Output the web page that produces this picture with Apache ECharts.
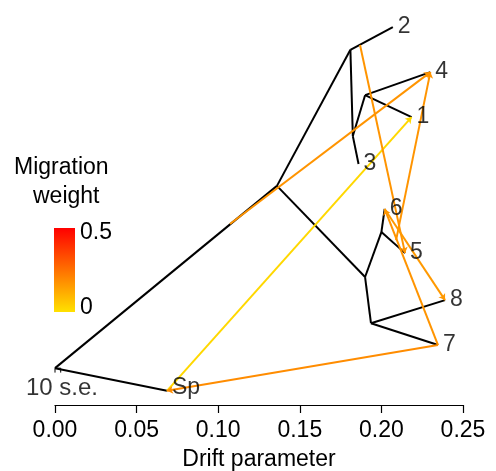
<!DOCTYPE html>
<html><head><meta charset="utf-8">
<script src="https://cdn.jsdelivr.net/npm/echarts@6/dist/echarts.min.js"></script>
<style>html,body{margin:0;padding:0;background:#fff}#c{width:496px;height:471px}</style>
</head><body><div id="c"></div>
<script>
// Tree nodes: drift parameter (x) and vertical position (y, 0..1)
const nodeNames = ['root','Sp','A','B','2','C','3','D','4','1','E','F','6','5','G','8','7'];
const nodeDrift = [0.000,0.0686,0.136,0.181,0.207,0.1825,0.186,0.190,0.230,0.2185,0.190,0.200,0.202,0.2145,0.1936,0.239,0.2347];
const nodeY     = [0.091,0.035,0.541,0.877,0.933,0.664,0.595,0.765,0.822,0.711,0.316,0.427,0.484,0.375,0.202,0.259,0.148];
// Tree edges (parent, child)
const treeEdges = [['root','Sp'],['root','A'],['A','B'],['B','2'],['B','C'],['C','3'],['C','D'],['D','4'],['D','1'],
                   ['A','E'],['E','F'],['F','6'],['F','5'],['E','G'],['G','8'],['G','7']];
// Tip labels
const tipNames = ['Sp','2','3','4','1','6','5','8','7'];
// Migration edges: source point (drift, y), destination node, weight
const migFromDrift = [0.0686,0.1072,0.2347,0.209,0.1869,0.2347,0.202];
const migFromY     = [0.035,0.447,0.148,0.407,0.889,0.148,0.484];
const migTo        = ['1','4','Sp','4','5','6','8'];
const migWeight    = [0.02,0.17,0.19,0.17,0.17,0.17,0.16];
// Axis ticks
const xTicks = [0.00,0.05,0.10,0.15,0.20,0.25];
const seBar = {drift:0.0035, y0:0.091, y1:0.080};

const idx = n => nodeNames.indexOf(n);
const pt = n => [nodeDrift[idx(n)], nodeY[idx(n)]];
function wColor(w){ // yellow (0) -> red (0.5)
  const t = Math.max(0, Math.min(1, w/0.5));
  const g = Math.round(225*(1-t));
  return 'rgb(255,'+g+',0)';
}
const FONT = 'Liberation Sans, Arial, sans-serif';

const chart = echarts.init(document.getElementById('c'), null, {renderer:'canvas'});
chart.setOption({
  animation:false,
  backgroundColor:'#fff',
  grid:{left:55,right:33,top:0,bottom:66,containLabel:false,outerBoundsMode:'none'},
  xAxis:{type:'value',min:0,max:0.25,interval:0.05,
    axisLine:{show:true,onZero:false,lineStyle:{color:'#000',width:1.2}},
    axisTick:{show:true,length:8,lineStyle:{color:'#000',width:1.2}},
    axisLabel:{color:'#000',fontSize:23,fontFamily:FONT,margin:14,
      formatter:v=>{const m=xTicks.find(t=>Math.abs(t-v)<1e-9);return (m===undefined?v:m).toFixed(2);}},
    splitLine:{show:false},
    name:'Drift parameter',nameLocation:'middle',nameGap:43,
    nameTextStyle:{color:'#000',fontSize:23,fontFamily:FONT}},
  yAxis:{type:'value',min:0,max:1,show:false},
  series:[
    {type:'lines',coordinateSystem:'cartesian2d',z:3,
     lineStyle:{color:'#000',width:2,opacity:1},
     data:treeEdges.map(e=>({coords:[pt(e[0]),pt(e[1])]}))},
    {type:'lines',coordinateSystem:'cartesian2d',z:4,
     symbol:['none','arrow'],symbolSize:6,
     data:migTo.map((d,i)=>({coords:[[migFromDrift[i],migFromY[i]],pt(d)],
       lineStyle:{color:wColor(migWeight[i]),width:2,opacity:1}}))},
    {type:'scatter',symbolSize:0,z:5,
     label:{show:true,position:'right',distance:5,offset:[0,0],color:'#000',fontSize:23,fontFamily:FONT,
       formatter:p=>p.name},
     data:tipNames.map(n=>({name:n,value:pt(n),label:n==='Sp'?{offset:[0,-3]}:undefined}))},
    {type:'line',z:5,symbol:'none',lineStyle:{color:'#000',width:1},
     data:[[0,seBar.y1],[0,seBar.y0],[seBar.drift,seBar.y0],[seBar.drift,seBar.y1]]},
    {type:'scatter',symbolSize:0,z:5,
     label:{show:true,position:'bottom',distance:2,offset:[7,2],color:'#000',fontSize:24,fontFamily:FONT,formatter:'10 s.e.'},
     data:[[0,seBar.y1]]}
  ],
  graphic:[
    {type:'text',left:14,top:156,style:{text:'Migration',fontSize:23,fontFamily:FONT,fill:'#000'}},
    {type:'text',left:33,top:185,style:{text:'weight',fontSize:23,fontFamily:FONT,fill:'#000'}},
    {type:'rect',shape:{x:54,y:228,width:21,height:84},
     style:{fill:new echarts.graphic.LinearGradient(0,0,0,1,[{offset:0,color:wColor(0.5)},{offset:1,color:wColor(0)}])}},
    {type:'text',left:80,top:221,style:{text:'0.5',fontSize:23,fontFamily:FONT,fill:'#000'}},
    {type:'text',left:80,top:296,style:{text:'0',fontSize:23,fontFamily:FONT,fill:'#000'}}
  ]
});
</script></body></html>
